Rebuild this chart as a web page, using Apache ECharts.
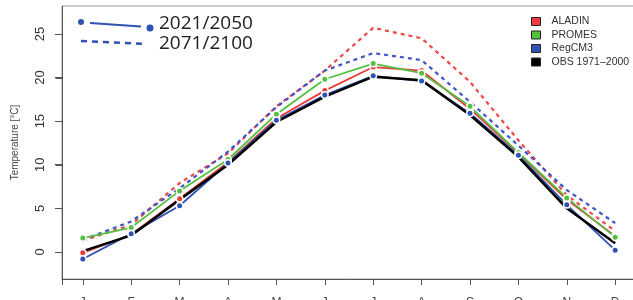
<!DOCTYPE html>
<html>
<head>
<meta charset="utf-8">
<script src="https://cdn.jsdelivr.net/npm/echarts@6/dist/echarts.min.js"></script>
<style>
  html, body { margin: 0; padding: 0; background: #fff; }
  #container { width: 633px; height: 300px; }
</style>
</head>
<body>
<div id="container"></div>
<script>
var months = ['J', 'F', 'M', 'A', 'M', 'J', 'J', 'A', 'S', 'O', 'N', 'D'];
var yTicks = [0, 5, 10, 15, 20, 25];

var obs = [0.1, 1.9, 6.0, 10.0, 14.9, 17.8, 20.1, 19.7, 15.7, 10.9, 5.0, 1.0];
var aladinNear = [-0.1, 2.0, 6.1, 10.3, 15.3, 18.5, 21.2, 20.8, 16.4, 11.3, 6.0, 1.8];
var promesNear = [1.6, 2.8, 7.0, 10.6, 15.8, 19.8, 21.6, 20.5, 16.7, 11.4, 6.2, 1.7];
var regcmNear = [-0.8, 2.1, 5.3, 10.2, 15.1, 18.0, 20.2, 19.6, 15.9, 11.1, 5.4, 0.2];
var aladinFar = [1.3, 3.1, 7.9, 11.3, 16.7, 20.8, 25.7, 24.5, 19.5, 12.8, 6.5, 2.4];
var regcmFar = [1.4, 3.5, 7.3, 11.5, 16.6, 20.8, 22.8, 22.0, 17.2, 12.2, 7.1, 3.3];

var RED = '#ee3a3a';
var GREEN = '#55bf40';
var BLUE = '#2f52b4';

// axis extents (R pads the data range a little)
var X_MIN = 0.57, X_MAX = 12.43;
var Y_MIN = -3.1, Y_MAX = 28.2;

function pts(vals) {
  return vals.map((v, i) => [i + 1, v]);
}

function solid(name, vals, color) {
  return {
    name: name,
    type: 'line',
    data: pts(vals),
    symbol: 'circle',
    symbolSize: 6.5,
    color: color,
    lineStyle: { width: 1.8, color: color },
    itemStyle: { color: color, borderColor: '#fff', borderWidth: 1.5 }
  };
}

function dashed(name, vals, color) {
  return {
    name: name,
    type: 'line',
    data: pts(vals),
    symbol: 'none',
    color: color,
    lineStyle: { width: 2.2, type: [4, 4], color: color }
  };
}

// the hand-made legend at top left
var keyGraphics = [
  { id: 'k1', type: 'circle', shape: { cx: 81, cy: 22, r: 3 }, style: { fill: BLUE } },
  { id: 'k2', type: 'line', shape: { x1: 90, y1: 23, x2: 141, y2: 26.5 }, style: { stroke: BLUE, lineWidth: 1.8 } },
  { id: 'k3', type: 'circle', shape: { cx: 150, cy: 28, r: 3.5 }, style: { fill: BLUE } },
  { id: 'k4', type: 'text', left: 159, top: 14, style: { text: '2021/2050', font: '19px "Open Sans"', fill: '#222' } },
  { id: 'k5', type: 'line', shape: { x1: 81, y1: 41, x2: 145, y2: 44 }, style: { stroke: BLUE, lineWidth: 2.5, lineDash: [6, 5] } },
  { id: 'k6', type: 'text', left: 159, top: 34, style: { text: '2071/2100', font: '19px "Open Sans"', fill: '#222' } }
];

var dom = document.getElementById('container');
var myChart = echarts.init(dom);

var option = {
  animation: false,
  grid: {
    left: 62,
    top: 6,
    right: -3,
    bottom: 21,
    outerBoundsMode: 'none',
    show: true,
    borderColor: '#999',
    borderWidth: 1
  },
  legend: {
    orient: 'vertical',
    left: 526,
    top: 11,
    itemWidth: 9,
    itemHeight: 8,
    itemGap: 2.5,
    selectedMode: false,
    textStyle: { fontFamily: 'Liberation Sans', fontSize: 10.5, color: '#333', padding: [0, 0, 0, 6] },
    data: [
      { name: 'ALADIN', icon: 'rect', itemStyle: { color: RED, borderColor: '#222', borderWidth: 1 } },
      { name: 'PROMES', icon: 'rect', itemStyle: { color: GREEN, borderColor: '#222', borderWidth: 1 } },
      { name: 'RegCM3', icon: 'rect', itemStyle: { color: BLUE, borderColor: '#222', borderWidth: 1 } },
      { name: 'OBS 1971\u20132000', icon: 'rect', itemStyle: { color: '#000', borderColor: '#222', borderWidth: 1 } }
    ]
  },
  xAxis: [
    {
      // labels
      type: 'value',
      min: X_MIN,
      max: X_MAX,
      splitNumber: 12,
      minInterval: 1,
      maxInterval: 1,
      splitLine: { show: false },
      axisLine: { show: false, onZero: false },
      axisTick: { show: false },
      axisLabel: {
        showMinLabel: false,
        showMaxLabel: false,
        formatter: v => (Number.isInteger(v) && v >= 1 && v <= 12) ? months[v - 1] : '',
        margin: 18,
        fontFamily: 'Liberation Sans',
        fontSize: 12,
        color: '#444'
      }
    },
    {
      // axis line + ticks
      type: 'value',
      position: 'bottom',
      min: X_MIN,
      max: X_MAX,
      splitNumber: 12,
      minInterval: 1,
      maxInterval: 1,
      splitLine: { show: false },
      axisLine: { show: true, onZero: false, lineStyle: { color: '#555' } },
      axisTick: { show: true, length: 6 },
      axisLabel: { show: false }
    }
  ],
  yAxis: {
    type: 'value',
    min: Y_MIN,
    max: Y_MAX,
    minInterval: 5,
    maxInterval: 5,
    name: 'Temperature [\u00b0C]',
    nameLocation: 'middle',
    nameGap: 42,
    nameRotate: 90,
    nameTextStyle: { fontFamily: 'Liberation Sans', fontSize: 10, color: '#444' },
    splitLine: { show: false },
    axisLine: { show: true, onZero: false, lineStyle: { color: '#555' } },
    axisTick: { show: true, length: 7 },
    axisLabel: {
      showMinLabel: false,
      showMaxLabel: false,
      rotate: 90,
      margin: 15,
      fontFamily: 'Liberation Sans',
      fontSize: 13,
      color: '#333'
    }
  },
  graphic: keyGraphics,
  series: [
    dashed('ALADIN 2071/2100', aladinFar, '#f04848'),
    dashed('RegCM3 2071/2100', regcmFar, '#3f55c8'),
    solid('ALADIN', aladinNear, RED),
    solid('PROMES', promesNear, GREEN),
    solid('RegCM3', regcmNear, BLUE),
    {
      name: 'OBS 1971\u20132000',
      type: 'line',
      data: pts(obs),
      symbol: 'none',
      color: '#000',
      lineStyle: { width: 2.5, color: '#000' }
    }
  ]
};

myChart.setOption(option);

// y ticks did not show up from the axis itself, so place them with the axis scale
var axisX = Math.round(myChart.convertToPixel({ xAxisIndex: 0 }, X_MIN)) + 0.5;
var tickGraphics = yTicks.map((v, i) => {
  var y = Math.round(myChart.convertToPixel({ yAxisIndex: 0 }, v)) + 0.5;
  return {
    id: 'yt' + i,
    type: 'line',
    z: 10,
    shape: { x1: axisX - 7, y1: y, x2: axisX, y2: y },
    style: { stroke: '#555', lineWidth: 1 }
  };
});
myChart.setOption({ graphic: keyGraphics.concat(tickGraphics) });

window.onresize = function() {
  myChart.resize();
};
</script>
</body>
</html>
